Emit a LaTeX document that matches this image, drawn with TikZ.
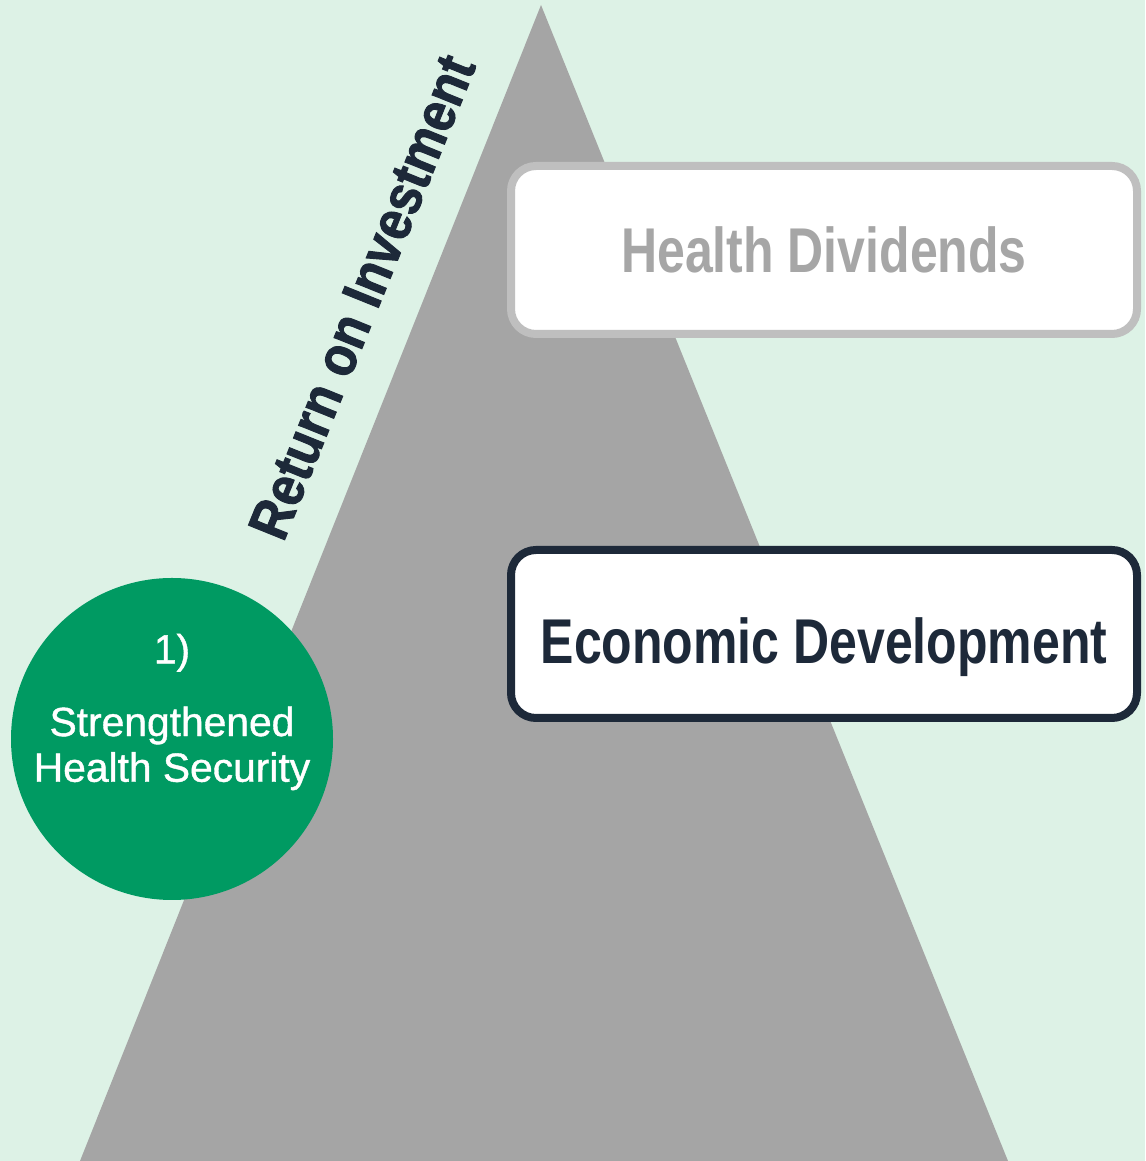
\documentclass[tikz,border=0pt]{standalone}
\usepackage{fontspec}
\setmainfont{Liberation Sans}
\newfontfamily\condfont[FakeStretch=0.79]{Liberation Sans}
\newfontfamily\roifont[FakeStretch=0.88, FakeBold=1.6]{Liberation Sans}
\newfontfamily\circfont[FakeBold=1.0]{Liberation Sans}
\usetikzlibrary{shapes}
\definecolor{mint}{RGB}{221, 242, 230}
\definecolor{pyramid}{RGB}{165, 165, 165}
\definecolor{green}{RGB}{0, 154, 98}
\definecolor{navy}{RGB}{29, 41, 57}
\definecolor{lightgray}{RGB}{191, 191, 191}
\definecolor{textgray}{RGB}{166, 166, 166}
\tikzset{
  levelbox/.style={rectangle, rounded corners=0.25cm, fill=white, line width=0.08cm,
                   minimum width=6.26cm, minimum height=1.68cm,
                   text height=0.46cm, text depth=0pt,
                   font=\condfont\bfseries\fontsize{18}{20}\selectfont},
  outcome/.style={circle, fill=green, minimum size=3.22cm, inner sep=0pt},
  outcometext/.style={text=white, align=center, inner sep=0pt,
                      font=\circfont\fontsize{11.6}{13}\selectfont}
}

\begin{document}
\begin{tikzpicture}
      \def\W{11.45}
      \def\H{11.61}
      \useasboundingbox (0, 0) rectangle (\W, \H);
      \fill[mint] (0, 0) rectangle (\W, \H);
      % pyramid
      \fill[pyramid] (0.80, 0) -- (5.41, 11.56) -- (10.08, 0) -- cycle;
      \node[levelbox, draw=lightgray, text=textgray] (hdiv) at (8.24, 9.11) {Health Dividends};
      \node[levelbox, draw=navy, text=navy, text height=0.60cm]
        (econ) at (8.24, 5.27) {Economic Development};
      \node[outcome] (hsec) at (1.72, 4.22) {};
      \node[outcometext] (hseclabel) at ([yshift=0.27cm]hsec.center)
        {1)\\[0.27cm]Strengthened\\Health Security};
      \node[rotate=68, text=navy, font=\roifont\bfseries\fontsize{16.2}{18}\selectfont]
        (roi) at (3.62, 8.64) {Return on Investment};
    \end{tikzpicture}
\end{document}
